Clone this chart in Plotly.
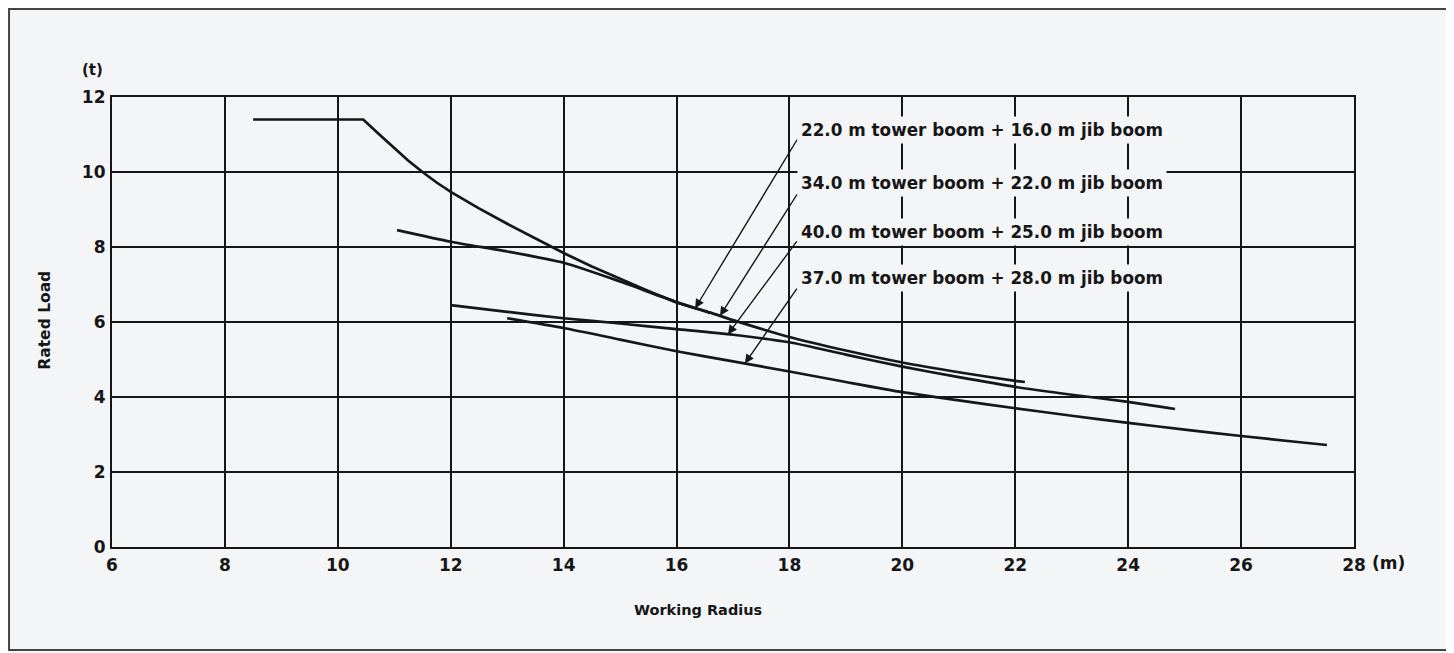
import numpy as np
import plotly.graph_objects as go

# ---- data (working radius in m, rated load in t) ----
radius_22_16 = [8.5, 10.45, 10.75, 11.0, 11.25, 11.5, 11.75, 12.0, 12.5, 13.0, 13.5, 14.0, 14.5, 15.0, 15.5, 16.0, 16.6]
load_22_16 = [11.4, 11.4, 10.98, 10.63, 10.3, 10.0, 9.72, 9.47, 9.03, 8.62, 8.22, 7.84, 7.48, 7.15, 6.83, 6.52, 6.24]

radius_34_22 = [11.05, 12.0, 13.0, 14.0, 15.0, 16.0, 16.6, 17.0, 18.0, 19.0, 20.0, 21.0, 22.0, 22.17]
load_34_22 = [8.45, 8.14, 7.88, 7.58, 7.08, 6.53, 6.25, 6.05, 5.6, 5.24, 4.92, 4.66, 4.43, 4.4]

radius_40_25 = [12.0, 13.0, 14.0, 15.0, 16.0, 17.0, 18.0, 19.0, 20.0, 21.0, 22.0, 23.0, 24.0, 24.83]
load_40_25 = [6.45, 6.27, 6.1, 5.96, 5.81, 5.66, 5.46, 5.13, 4.81, 4.53, 4.27, 4.06, 3.87, 3.68]

radius_37_28 = [13.0, 14.0, 15.0, 16.0, 17.0, 18.0, 19.0, 20.0, 21.0, 22.0, 23.0, 24.0, 25.0, 26.0, 27.0, 27.52]
load_37_28 = [6.1, 5.84, 5.53, 5.22, 4.95, 4.68, 4.4, 4.13, 3.91, 3.7, 3.5, 3.31, 3.13, 2.96, 2.8, 2.72]

series_labels = [
    "22.0 m tower boom + 16.0 m jib boom",
    "34.0 m tower boom + 22.0 m jib boom",
    "40.0 m tower boom + 25.0 m jib boom",
    "37.0 m tower boom + 28.0 m jib boom",
]

x_tick_vals = [6, 8, 10, 12, 14, 16, 18, 20, 22, 24, 26, 28]
x_tick_text = ["6", "8", "10", "12", "14", "16", "18", "20", "22", "24", "26", "28"]
y_tick_vals = [0, 2, 4, 6, 8, 10, 12]
y_tick_text = ["0", "2", "4", "6", "8", "10", "12"]

# label / arrow placement (data coordinates)
label_y = [11.12, 9.71, 8.40, 7.17]
label_x = 18.13
arrow_tip_x = [16.33, 16.77, 16.91, 17.21]
arrow_tail_x = 18.15
arrow_tail_y = [10.90, 9.44, 8.19, 6.93]

FONT = "DejaVu Sans"
INK = "#161616"
BG = "#f4f5f7"

series = [
    (radius_22_16, load_22_16),
    (radius_34_22, load_34_22),
    (radius_40_25, load_40_25),
    (radius_37_28, load_37_28),
]

fig = go.Figure()
for i, ((xs, ys), name) in enumerate(zip(series, series_labels)):
    shape = "linear" if i == 0 else "spline"
    fig.add_trace(go.Scatter(x=xs, y=ys, mode="lines", name=name,
                             line=dict(color=INK, width=2.7, shape=shape, smoothing=0.6),
                             showlegend=False))

annotations = []
for ly, name in zip(label_y, series_labels):
    annotations.append(dict(x=label_x, y=ly, xref="x", yref="y", text=name,
                            showarrow=False, xanchor="left", yanchor="middle",
                            font=dict(family=FONT, size=16.8, color=INK, weight="bold"),
                            bgcolor=BG, borderpad=3))
for tx, ty_tail, (xs, ys) in zip(arrow_tip_x, arrow_tail_y, series):
    ty = float(np.interp(tx, xs, ys))
    annotations.append(dict(x=tx, y=ty, xref="x", yref="y", ax=arrow_tail_x, ay=ty_tail,
                            axref="x", ayref="y", text="", showarrow=True,
                            arrowhead=2, arrowsize=1.3, arrowwidth=1.4, arrowcolor=INK,
                            standoff=0, startstandoff=0))

annotations += [
    dict(x=-0.016, y=1.06, xref="paper", yref="paper", text="(t)", showarrow=False,
         xanchor="center", yanchor="middle",
         font=dict(family=FONT, size=15, color=INK, weight="bold")),
    dict(x=1.0129, y=-0.0356, xref="paper", yref="paper", text="(m)", showarrow=False,
         xanchor="left", yanchor="middle",
         font=dict(family=FONT, size=17, color=INK, weight="bold")),
    dict(x=0.4718, y=-0.14, xref="paper", yref="paper", text="Working Radius",
         showarrow=False, xanchor="center", yanchor="middle",
         font=dict(family=FONT, size=14.5, color=INK, weight="bold")),
    dict(x=-0.054, y=0.505, xref="paper", yref="paper", text="Rated Load",
         showarrow=False, textangle=-90, xanchor="center", yanchor="middle",
         font=dict(family=FONT, size=15.5, color=INK, weight="bold")),
]

# the page body has an 8px margin, so the figure is shrunk by 8px on each start side
fig.update_layout(
    width=1446, height=645,
    margin=dict(l=104, r=100, t=89, b=106),
    paper_bgcolor=BG, plot_bgcolor=BG,
    annotations=annotations,
    shapes=[dict(type="rect", xref="paper", yref="paper",
                 x0=-0.0829, x1=1.0757, y0=-0.2289, y1=1.1956,
                 line=dict(color="#444444", width=2), fillcolor="rgba(0,0,0,0)",
                 layer="below")],
)
fig.update_xaxes(range=[6, 28], tickvals=x_tick_vals, ticktext=x_tick_text,
                 showgrid=True, gridcolor=INK, gridwidth=1.5,
                 showline=True, linecolor=INK, linewidth=2.2, mirror=True,
                 zeroline=False, ticks="", ticklabelstandoff=1,
                 tickfont=dict(family=FONT, size=17, color=INK, weight="bold"))
fig.update_yaxes(range=[0, 12], tickvals=y_tick_vals, ticktext=y_tick_text,
                 showgrid=True, gridcolor=INK, gridwidth=1.5,
                 showline=True, linecolor=INK, linewidth=2.2, mirror=True,
                 zeroline=False, ticks="", ticklabelstandoff=1,
                 tickfont=dict(family=FONT, size=17, color=INK, weight="bold"))

fig.write_html("out.html")
